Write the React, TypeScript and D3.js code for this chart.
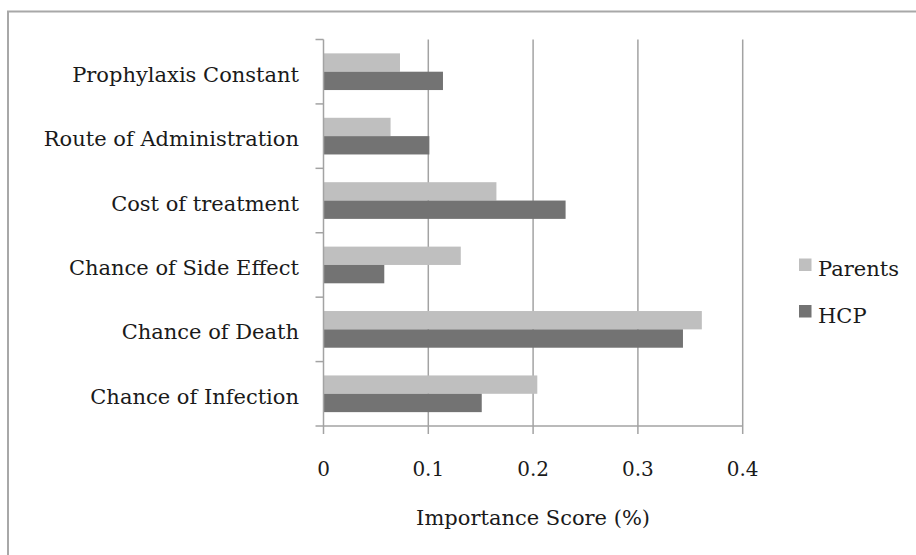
import React from "react";
import * as d3 from "d3";

const categories = [
  "Prophylaxis Constant",
  "Route of Administration",
  "Cost of treatment",
  "Chance of Side Effect",
  "Chance of Death",
  "Chance of Infection",
];
const seriesNames = ["Parents", "HCP"];
const parentsValues = [0.073, 0.064, 0.165, 0.131, 0.361, 0.204];
const hcpValues = [0.114, 0.101, 0.231, 0.058, 0.343, 0.151];
const xTicks = [0, 0.1, 0.2, 0.3, 0.4];
const xTickLabels = ["0", "0.1", "0.2", "0.3", "0.4"];
const xAxisTitle = "Importance Score (%)";

const W = 916;
const H = 555;
const colors = ["#bfbfbf", "#737373"];
const gridColor = "#a3a3a3";
const font = "'DejaVu Serif', serif";

export default function App() {
  const left = 323.5;
  const right = 742.7;
  const top = 39.5;
  const bottom = 426;

  const x = d3.scaleLinear().domain([0, 0.4]).range([left, right]);
  const y = d3.scaleBand<string>().domain(categories).range([top, bottom]).padding(0);
  const inner = d3
    .scaleBand<string>()
    .domain(seriesNames)
    .range([0, y.step()])
    .paddingInner(0)
    .paddingOuter(0.756);

  const seriesValues = [parentsValues, hcpValues];
  const bandEdges = d3.range(categories.length + 1).map((i) => top + i * y.step());

  return (
    <svg
      width={W}
      height={H}
      style={{ position: "absolute", left: 0, top: 0, background: "#fff" }}
      fontFamily={font}
    >
      <rect x={0} y={0} width={W} height={H} fill="#fff" />
      <rect x={8} y={11.5} width={W + 20} height={H + 20} fill="none" stroke="#a8a8a8" strokeWidth={2} />

      {/* gridlines */}
      {xTicks.slice(1).map((t) => (
        <line key={"g" + t} x1={x(t)} x2={x(t)} y1={top} y2={bottom} stroke={gridColor} strokeWidth={1.5} />
      ))}

      {/* bars */}
      {categories.map((c, i) =>
        seriesNames.map((s, k) => (
          <rect
            key={c + s}
            x={x(0)}
            y={(y(c) as number) + (inner(s) as number)}
            width={x(seriesValues[k][i]) - x(0)}
            height={inner.bandwidth()}
            fill={colors[k]}
          />
        ))
      )}

      {/* axes */}
      <line x1={left} x2={left} y1={top} y2={bottom} stroke={gridColor} strokeWidth={1.5} />
      <line x1={left} x2={right} y1={bottom} y2={bottom} stroke={gridColor} strokeWidth={1.5} />
      {bandEdges.map((yy, i) => (
        <line key={"yt" + i} x1={left - 8} x2={left} y1={yy} y2={yy} stroke={gridColor} strokeWidth={1.5} />
      ))}
      {xTicks.map((t) => (
        <line key={"xt" + t} x1={x(t)} x2={x(t)} y1={bottom} y2={bottom + 8} stroke={gridColor} strokeWidth={1.5} />
      ))}

      {/* labels */}
      {categories.map((c) => (
        <text
          key={"l" + c}
          x={299}
          y={(y(c) as number) + y.bandwidth() / 2 + 10}
          textAnchor="end"
          fontSize={21}
          fill="#1a1a1a"
        >
          {c}
        </text>
      ))}
      {xTicks.map((t, i) => (
        <text key={"xl" + t} x={x(t)} y={476} textAnchor="middle" fontSize={20} fill="#1a1a1a">
          {xTickLabels[i]}
        </text>
      ))}
      <text x={(left + right) / 2} y={525} textAnchor="middle" fontSize={21} fill="#1a1a1a">
        {xAxisTitle}
      </text>

      {/* legend */}
      {seriesNames.map((s, k) => (
        <g key={"lg" + s} transform={`translate(799,${258.5 + k * 46.5})`}>
          <rect x={0} y={0} width={12.5} height={12.5} fill={colors[k]} />
          <text x={19} y={17.5} fontSize={21} fill="#1a1a1a">
            {s}
          </text>
        </g>
      ))}
    </svg>
  );
}
